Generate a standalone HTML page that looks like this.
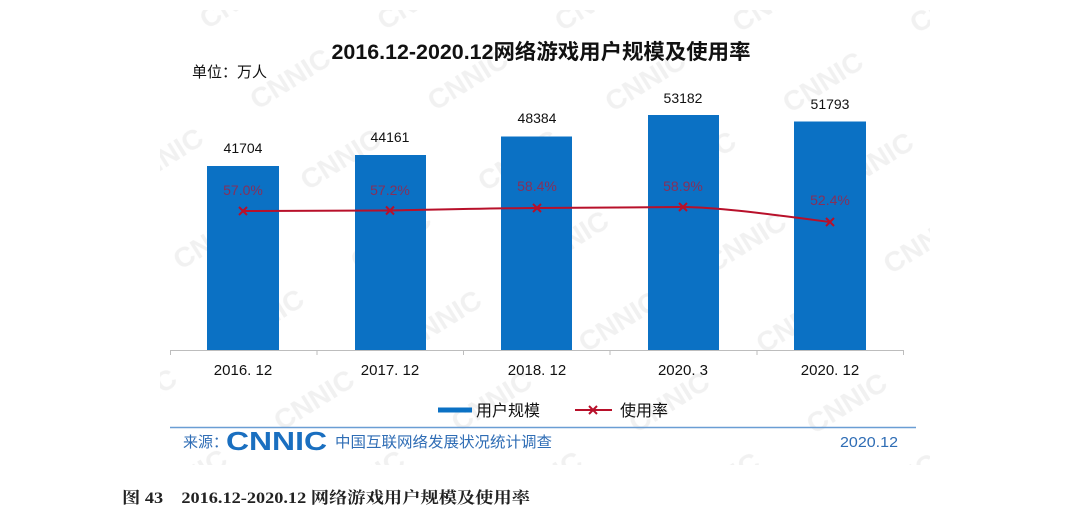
<!DOCTYPE html>
<html>
<head>
<meta charset="utf-8">
<style>
html,body{margin:0;padding:0;background:#fff;}
svg{display:block;}
</style>
</head>
<body>
<svg width="1080" height="527" viewBox="0 0 1080 527" xmlns="http://www.w3.org/2000/svg">
  <defs>
    <pattern id="wm" x="0" y="0" width="150" height="95" patternUnits="userSpaceOnUse" patternTransform="rotate(-32)">
      <text x="10" y="40" font-family="Liberation Sans, sans-serif" font-weight="bold" font-size="28" fill="#f1f1f1">CNNIC</text>
    </pattern>
  </defs>
  <rect x="0" y="0" width="1080" height="527" fill="#fff"/>
  <rect x="160" y="10" width="770" height="455" fill="url(#wm)"/>

  <!-- Title -->
  <text x="541" y="59" text-anchor="middle" font-family="Liberation Sans, 'Noto Sans CJK SC', sans-serif" font-weight="bold" font-size="21" fill="#111" textLength="419" lengthAdjust="spacingAndGlyphs">2016.12-2020.12网络游戏用户规模及使用率</text>
  <text x="192" y="77" font-family="Liberation Sans, 'Noto Sans CJK SC', sans-serif" font-size="15" fill="#111">单位：万人</text>

  <!-- Axis -->
  <line x1="170" y1="350.5" x2="904" y2="350.5" stroke="#bdbdbd" stroke-width="1"/>
  <g stroke="#bdbdbd" stroke-width="1">
    <line x1="170.5" y1="350" x2="170.5" y2="355"/>
    <line x1="317" y1="350" x2="317" y2="355"/>
    <line x1="463.5" y1="350" x2="463.5" y2="355"/>
    <line x1="610" y1="350" x2="610" y2="355"/>
    <line x1="757" y1="350" x2="757" y2="355"/>
    <line x1="903.5" y1="350" x2="903.5" y2="355"/>
  </g>

  <!-- Bars -->
  <g fill="#0b71c4">
    <rect x="207" y="166" width="72" height="184"/>
    <rect x="355" y="155" width="71" height="195"/>
    <rect x="501" y="136.5" width="71" height="213.5"/>
    <rect x="648" y="115" width="71" height="235"/>
    <rect x="794" y="121.5" width="72" height="228.5"/>
  </g>

  <!-- Value labels -->
  <g font-family="Liberation Sans, sans-serif" font-size="14" fill="#111" text-anchor="middle">
    <text x="243" y="153">41704</text>
    <text x="390" y="142">44161</text>
    <text x="537" y="123">48384</text>
    <text x="683" y="103">53182</text>
    <text x="830" y="109">51793</text>
  </g>

  <!-- Line -->
  <path d="M243,211 L390,210.5 C440,209.5 490,208.3 537,208 C590,207.5 640,207 683,207 C720,207.5 760,213 830,222" fill="none" stroke="#b8102a" stroke-width="2"/>
  <g stroke="#b8102a" stroke-width="2">
    <path d="M239,207 L247,215 M247,207 L239,215"/>
    <path d="M386,206.5 L394,214.5 M394,206.5 L386,214.5"/>
    <path d="M533,204 L541,212 M541,204 L533,212"/>
    <path d="M679,203 L687,211 M687,203 L679,211"/>
    <path d="M826,218 L834,226 M834,218 L826,226"/>
  </g>

  <!-- Percent labels -->
  <g font-family="Liberation Sans, sans-serif" font-size="14" fill="#86305a" text-anchor="middle">
    <text x="243" y="195">57.0%</text>
    <text x="390" y="195">57.2%</text>
    <text x="537" y="191">58.4%</text>
    <text x="683" y="191">58.9%</text>
    <text x="830" y="205">52.4%</text>
  </g>

  <!-- Category labels -->
  <g font-family="Liberation Sans, sans-serif" font-size="15" fill="#111" text-anchor="middle">
    <text x="243" y="375">2016. 12</text>
    <text x="390" y="375">2017. 12</text>
    <text x="537" y="375">2018. 12</text>
    <text x="683" y="375">2020. 3</text>
    <text x="830" y="375">2020. 12</text>
  </g>

  <!-- Legend -->
  <rect x="438" y="407.5" width="34" height="5" fill="#0b71c4"/>
  <text x="476" y="416" font-family="Liberation Sans, 'Noto Sans CJK SC', sans-serif" font-size="16" fill="#111">用户规模</text>
  <line x1="575" y1="410" x2="612" y2="410" stroke="#b8102a" stroke-width="2"/>
  <path d="M589,406 L597,414 M597,406 L589,414" stroke="#b8102a" stroke-width="2"/>
  <text x="620" y="416" font-family="Liberation Sans, 'Noto Sans CJK SC', sans-serif" font-size="16" fill="#111">使用率</text>

  <!-- Source line -->
  <line x1="170" y1="427.5" x2="916" y2="427.5" stroke="#6a9ed4" stroke-width="1.5"/>
  <text x="183" y="447" font-family="Liberation Sans, 'Noto Sans CJK SC', sans-serif" font-size="15" fill="#2f6db5">来源：</text>
  <text x="226" y="450" font-family="Liberation Sans, sans-serif" font-weight="bold" font-size="26" fill="#1a6fc0" textLength="101" lengthAdjust="spacingAndGlyphs">CNNIC</text>
  <text x="335" y="447" font-family="Liberation Sans, 'Noto Sans CJK SC', sans-serif" font-size="15" fill="#2f6db5" textLength="217" lengthAdjust="spacingAndGlyphs">中国互联网络发展状况统计调查</text>
  <text x="840" y="447" font-family="Liberation Sans, sans-serif" font-size="15" fill="#2f6db5" textLength="58" lengthAdjust="spacingAndGlyphs">2020.12</text>

  <!-- Caption -->
  <text x="122" y="503" font-family="Liberation Serif, 'Noto Serif CJK SC', serif" font-weight="bold" font-size="16" fill="#222" textLength="408" lengthAdjust="spacingAndGlyphs">图 43　2016.12-2020.12 网络游戏用户规模及使用率</text>
</svg>
</body>
</html>
